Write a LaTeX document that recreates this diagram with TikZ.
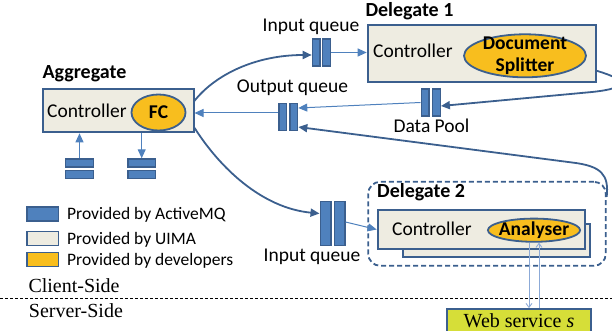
\documentclass[tikz,border=0pt]{standalone}
\usepackage{fontspec}
\setmainfont{Liberation Serif}
\setsansfont{Carlito}
\usetikzlibrary{arrows.meta,calc,shapes.geometric}
\definecolor{bdr}{RGB}{59,95,142}
\definecolor{qfill}{RGB}{79,129,189}
\definecolor{beige}{RGB}{238,236,225}
\definecolor{gold}{RGB}{248,190,30}
\definecolor{webfill}{RGB}{214,222,56}
\definecolor{thinblue}{RGB}{79,129,189}
\definecolor{wsline}{RGB}{140,170,215}
\begin{document}
\begin{tikzpicture}[x=1pt,y=-1pt,
  font=\sffamily\fontsize{19.5}{22}\selectfont,
  boldf/.style={font=\sffamily\bfseries\fontsize{20}{22}\selectfont},
  uimabox/.style={draw=bdr,line width=2pt,fill=beige,inner sep=0pt},
  devell/.style={ellipse,draw=bdr,line width=1.8pt,fill=gold,inner sep=-4pt,
    font=\sffamily\bfseries\fontsize{19.5}{22}\selectfont},
  vbar/.style={draw=bdr,fill=qfill,line width=1.4pt,inner sep=0pt,minimum width=7.6pt,minimum height=27pt},
  vbarbig/.style={vbar,minimum width=10.6pt,minimum height=43.6pt},
  hbar/.style={draw=bdr,fill=qfill,line width=1.4pt,inner sep=0pt,minimum width=27.6pt,minimum height=8pt},
  legbox/.style={draw=bdr,line width=1.6pt,inner sep=0pt,minimum width=31.5pt,minimum height=14pt},
  lbl/.style={inner sep=0pt,anchor=base},
  legtxt/.style={inner sep=0pt,anchor=base west,font=\sffamily\fontsize{17.5}{20}\selectfont},
  serift/.style={inner sep=0pt,anchor=base west,font=\rmfamily\fontsize{20}{22}\selectfont},
  flowthick/.style={draw=bdr,line width=1.8pt,-{Triangle[length=9pt,width=8pt]}},
  flowthin/.style={draw=thinblue,line width=1pt,-{Triangle[length=9pt,width=8pt]}},
  wsarrow/.style={draw=wsline,line width=0.9pt,-{Straight Barb[length=4pt,width=6pt]}}
]
\useasboundingbox (0,0) rectangle (612,331);

% Aggregate
\node[lbl,boldf] (aggt) at (84.5,79) {Aggregate};
\node[uimabox,minimum width=151pt,minimum height=43pt] (agg) at (118,110.8) {};
\node[lbl,anchor=base west] (aggc) at (47,117.5) {Controller};
\node[devell,minimum width=54pt,minimum height=36pt] (fc) at (158.5,112.5) {FC};
\node[hbar] (qa1) at (79.5,163) {};
\node[hbar] (qa2) at (79.5,174.7) {};
\node[hbar] (qb1) at (141.7,163) {};
\node[hbar] (qb2) at (141.7,174.7) {};

% Delegate 1
\node[lbl,boldf] (d1t) at (409.5,17) {Delegate 1};
\node[uimabox,minimum width=228pt,minimum height=57pt] (del1) at (481.7,53.8) {};
\node[lbl,anchor=base west] (d1c) at (373,58) {Controller};
\node[devell,minimum width=122pt,minimum height=43pt,align=center,inner ysep=-10pt] (ds) at (525,55.8) {Document\\Splitter};

% queues
\node[lbl] (iq1t) at (311,31.5) {Input queue};
\node[vbar] (iq1a) at (316.2,52.5) {};
\node[vbar] (iq1b) at (326.5,52.5) {};
\node[lbl] (oqt) at (292.5,93) {Output queue};
\node[vbar] (oq1) at (282.6,117) {};
\node[vbar] (oq2) at (293.8,117) {};
\node[vbar] (dp1) at (425,102.5) {};
\node[vbar] (dp2) at (436.4,102.5) {};
\node[lbl] (dpt) at (431.5,133) {Data Pool};
\node[vbarbig] (iq2a) at (325.5,223.5) {};
\node[vbarbig] (iq2b) at (339.5,223.5) {};
\node[lbl] (iq2t) at (312,261.5) {Input queue};

% Delegate 2
\node[draw=bdr,line width=1.8pt,dash pattern=on 5pt off 3pt,rounded corners=12pt,
  minimum width=237.6pt,minimum height=84pt,inner sep=0pt] (del2) at (487,223.8) {};
\node[lbl,boldf,anchor=base west] (d2t) at (377,197) {Delegate 2};
\node[uimabox,minimum width=187pt,minimum height=33pt] (d2back) at (496.2,240.8) {};
\node[uimabox,minimum width=207pt,minimum height=39pt] (d2front) at (481.2,229.5) {};
\node[lbl,anchor=base west] (d2c) at (392,235) {Controller};
\node[devell,minimum width=92.2pt,minimum height=23.2pt] (ana) at (534,230.2) {Analyser};

% web service
\node[draw=bdr,line width=1.8pt,fill=webfill,inner sep=0pt,minimum width=144pt,minimum height=24pt,
  font=\rmfamily\fontsize{20}{22}\selectfont] (web) at (519,321) {Web service \textit{s}};

% legend
\node[legbox,fill=qfill] (l1) at (42.7,213.9) {};
\node[legbox,fill=beige] (l2) at (42.7,238.4) {};
\node[legbox,fill=gold] (l3) at (42.7,259.5) {};
\node[legtxt] (l1t) at (67,219.3) {Provided by ActiveMQ};
\node[legtxt] (l2t) at (67,244) {Provided by UIMA};
\node[legtxt] (l3t) at (67,265.7) {Provided by developers};

% client / server
\node[serift] (cs) at (28.3,292.3) {Client-Side};
\node[serift] (ss) at (28.7,317.7) {Server-Side};
\coordinate (divl) at (0,298);
\coordinate (divr) at (612,298);
\draw[black,line width=0.6pt,dash pattern=on 3pt off 2pt] (divl) -- (divr);

% connectors
\draw[flowthick] ($(agg.east)+(0,-10)$) .. controls (215,75) and (255,55) .. ($(iq1a.west)+(0,2.5)$);
\draw[flowthick] ($(agg.east)+(0,17)$) .. controls (220,168) and (262,208) .. ($(iq2a.west)+(0,-10)$);
\draw[flowthin] (iq1b.east) -- (iq1b.east -| del1.west);
\draw[flowthin] ($(oq1.west)+(0,-4)$) -- ($(agg.east)+(0,2.2)$);
\draw[flowthin] (dp1.west) -- ($(oq2.east)+(0,-9)$);
\draw[flowthick] ($(del1.east)+(0,17)$) .. controls (628,80) and (630,88) .. (592,92) -- ($(dp2.east)+(0,3.5)$);
\coordinate (d2c) at ($(del2.north east)+(0,16)$);
\draw[flowthick] (d2c) .. controls (609,175) and (602,166) .. (572,162.5) -- ($(oq2.east)+(0,10)$);
\draw[flowthin] ($(iq2b.east)+(0,-1.5)$) -- (d2front.west);
\draw[flowthin] (qa1.north) -- (qa1.north |- agg.south);
\draw[flowthin] (qb1.north |- agg.south) -- (qb1.north);
\coordinate (a1) at ($(ana.south)+(-5,0)$);
\coordinate (a2) at ($(ana.south)+(5,0)$);
\draw[wsarrow] (a1) -- (a1 |- web.north);
\draw[wsarrow] (a2 |- web.north) -- (a2);
\end{tikzpicture}
\end{document}
